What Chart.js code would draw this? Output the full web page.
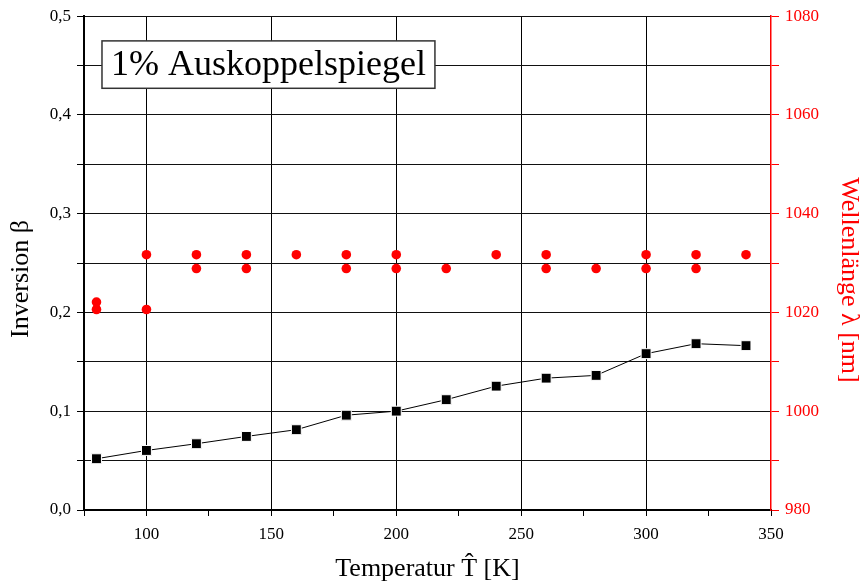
<!DOCTYPE html>
<html>
<head>
<meta charset="utf-8">
<script src="https://cdn.jsdelivr.net/npm/chart.js@4.4.1/dist/chart.umd.min.js"></script>
<style>
html,body{margin:0;padding:0;background:#fff;}
canvas{display:block;}
</style>
</head>
<body>
<canvas id="chart" width="864" height="588"></canvas>
<script>
// Inversion (black squares)
const temps=[80,100,120,140,160,180,200,220,240,260,280,300,320,340];
const inversion=[0.0519,0.0603,0.0671,0.0745,0.0813,0.0960,0.1001,0.1117,0.1254,0.1335,0.1363,0.1583,0.1684,0.1664];
// Wellenlaenge (red dots)
const lambdaT=[80,80,100,100,120,120,140,140,160,180,180,200,200,220,240,260,260,280,300,300,320,320,340];
const lambdaNm=[1022.1,1020.6,1031.7,1020.6,1031.7,1028.9,1031.7,1028.9,1031.7,1031.7,1028.9,1031.7,1028.9,1028.9,1031.7,1031.7,1028.9,1028.9,1031.7,1028.9,1031.7,1028.9,1031.7];

const xTitle='Temperatur T\u0302 [K]';
const yTitle='Inversion \u03b2';
const y1Title='Wellenl\u00e4nge \u03bb [nm]';
const boxText='1% Auskoppelspiegel';

const serif='"Liberation Serif", "Times New Roman", serif';
Chart.defaults.font.family=serif;
Chart.defaults.color='#000';

const extras={
  id:'extras',
  afterDatasetsDraw(chart){
    const {ctx,scales:{x,y}}=chart;
    ctx.save();
    ctx.font='36px '+serif;
    const tw=ctx.measureText(boxText).width;
    const left=x.getPixelForValue(82.2),top=y.getPixelForValue(0.475),bottom=y.getPixelForValue(0.427);
    const w=tw+18;
    ctx.fillStyle='#fff';
    ctx.fillRect(left,top,w,bottom-top);
    ctx.strokeStyle='#333';
    ctx.lineWidth=1.5;
    ctx.strokeRect(left,top,w,bottom-top);
    ctx.fillStyle='#000';
    ctx.textAlign='left';
    ctx.textBaseline='middle';
    ctx.fillText(boxText,left+9,(top+bottom)/2+1);
    ctx.restore();
  },
  afterDraw(chart){
    const {ctx}=chart;
    ctx.save();
    ctx.font='26px '+serif;
    ctx.textAlign='center';
    ctx.textBaseline='middle';
    ctx.translate(21,279);
    ctx.rotate(-Math.PI/2);
    ctx.fillStyle='#000';
    ctx.fillText(yTitle,0,0);
    ctx.restore();
    ctx.save();
    ctx.font='26px '+serif;
    ctx.textAlign='center';
    ctx.textBaseline='middle';
    ctx.translate(849,280);
    ctx.rotate(Math.PI/2);
    ctx.fillStyle='#f00';
    ctx.fillText(y1Title,0,0);
    ctx.restore();
  }
};

new Chart(document.getElementById('chart'),{
  type:'scatter',
  data:{datasets:[
    {label:'Inversion',data:temps.map((t,i)=>({x:t,y:inversion[i]})),yAxisID:'y',showLine:true,borderColor:'#000',borderWidth:1,pointStyle:'rect',pointRadius:7,pointBackgroundColor:'#000',pointBorderColor:'#fff',pointBorderWidth:1},
    {label:'Wellenlänge',data:lambdaT.map((t,i)=>({x:t,y:lambdaNm[i]})),yAxisID:'y1',showLine:false,pointStyle:'circle',pointRadius:4.8,pointBackgroundColor:'#f00',pointBorderWidth:0}
  ]},
  options:{
    responsive:false,animation:false,devicePixelRatio:1,
    layout:{padding:{top:16,left:0,right:0,bottom:0}},
    plugins:{legend:{display:false},tooltip:{enabled:false}},
    scales:{
      x:{type:'linear',position:'bottom',min:75,max:350,
        ticks:{stepSize:25,autoSkip:false,maxRotation:0,padding:8,font:{size:17},color:'#000',callback:v=>v%50===0?v:''},
        grid:{color:c=>(c.tick&&c.tick.value%50===0&&c.tick.value>75&&c.tick.value<350)?'#000':'rgba(0,0,0,0)',tickColor:'#000',tickLength:6,lineWidth:1},
        border:{color:'#000',width:2},
        title:{display:true,text:xTitle,font:{size:26},color:'#000',padding:{top:0,bottom:3}},
        afterFit:s=>{s.height=78;}},
      y:{position:'left',min:0,max:0.5,
        ticks:{stepSize:0.05,autoSkip:false,padding:6,font:{size:17},color:'#000',callback:v=>Math.round(v*100)%10===0?v.toFixed(1).replace('.',','):''},
        grid:{color:'#111',tickColor:'#000',tickLength:7,lineWidth:1},
        border:{color:'#000',width:2},
        afterFit:s=>{s.width=84;}},
      y1:{position:'right',min:980,max:1080,
        ticks:{stepSize:10,autoSkip:false,padding:6,font:{size:17},color:'#f00',callback:v=>v%20===0?v:''},
        grid:{drawOnChartArea:false,tickColor:'#f00',tickLength:8},
        border:{color:'#f00',width:1.5},
        afterFit:s=>{s.width=93;}}
    }
  },
  plugins:[extras]
});
</script>
</body>
</html>
